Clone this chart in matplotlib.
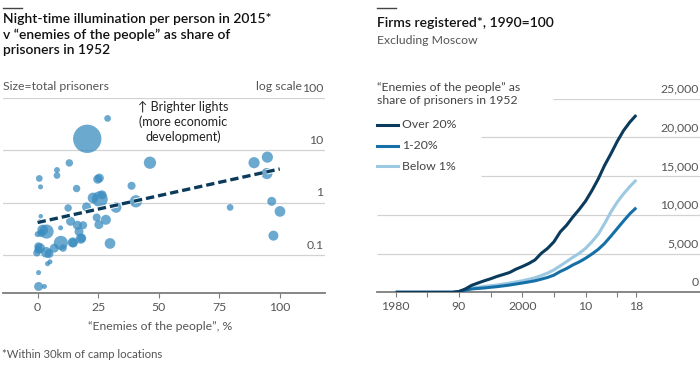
import numpy as np
import matplotlib
matplotlib.use("Agg")
import matplotlib.pyplot as plt
import matplotlib.patheffects as pe
from matplotlib.lines import Line2D
from matplotlib.transforms import blended_transform_factory

plt.rcParams['font.family'] = ['Lato', 'DejaVu Sans']

# --- left panel: scatter data ---
enemies_pct = [28.9, 20.5, 46.4, 13.1, 8.0, 8.0, 0.7, 1.2, 24.8, 25.5,
               16.1, 38.8, 89.4, 94.9, 94.7, 96.7, 100.1, 97.4, 79.5, 40.6,
               32.4, 25.7, 26.6, 22.9, 20.2, 12.6, 24.4, 28.2, 25.3, 13.6,
               16.4, 18.8, 17.1, 17.8, 14.5, 9.6, 6.9, 10.5, 3.7, 2.1,
               1.4, 1.3, 1.0, 9.5, 3.6, 4.7, 0.3, 0.3, -0.3, 29.9,
               4.1, 5.1, 0.4, 0.4, 2.8, 1.0, 14.7, 18.2, 0.0]
lights = [40.7, 16.6, 5.8, 5.75, 4.2, 3.3, 2.9, 2.0, 2.8, 2.95,
          1.86, 2.1, 5.8, 7.4, 3.6, 1.06, 0.68, 0.234, 0.81, 1.06,
          0.81, 1.17, 1.41, 1.23, 0.83, 0.79, 0.52, 0.47, 0.38, 0.44,
          0.37, 0.37, 0.28, 0.204, 0.174, 0.17, 0.135, 0.135, 0.28, 0.30,
          0.26, 0.55, 0.44, 0.33, 0.112, 0.106, 0.146, 0.126, 0.11, 0.166,
          0.068, 0.074, 0.046, 0.025, 0.025, 0.135, 0.17, 0.21, 0.25]
prisoners_k = [9, 160, 30, 11, 7, 9, 9, 5, 16, 16,
               11, 13, 25, 25, 25, 16, 23, 20, 9, 30,
               23, 50, 16, 23, 16, 11, 13, 20, 16, 16,
               16, 13, 16, 20, 20, 40, 16, 11, 40, 23,
               11, 4, 5, 5, 23, 16, 13, 13, 11, 23,
               5, 5, 5, 16, 5, 20, 16, 16, 7]
trend_x = [0, 100]
trend_y = [0.417, 4.4]
left_xticks = [0, 25, 50, 75, 100]
left_yticks = [0.1, 1, 10, 100]
left_ylabels = ['0.1', '1', '10', '100']

# --- right panel: firms registered, 1990=100 ---
years = list(range(1980, 2019))
over20 = [0, 0, 0, 0, 0, 0, 0, 0, 0, 0,
          100, 430, 900, 1200, 1490, 1750, 2050, 2300, 2560, 2990,
          3330, 3710, 4180, 5040, 5680, 6530, 7810, 8670, 9740, 10720,
          11790, 13150, 14650, 16400, 17900, 19500, 20900, 22000, 22900]
mid = [0, 0, 0, 0, 0, 0, 0, 0, 0, 0,
       100, 260, 430, 500, 560, 650, 730, 830, 940, 1070,
       1200, 1340, 1490, 1700, 1920, 2220, 2690, 3070, 3540, 3930,
       4400, 4950, 5550, 6320, 7260, 8240, 9220, 10160, 10930]
below1 = [0, 0, 0, 0, 0, 0, 0, 0, 0, 0,
          100, 330, 560, 660, 770, 850, 940, 1070, 1200, 1340,
          1490, 1680, 1880, 2170, 2480, 2900, 3420, 3970, 4530, 5040,
          5680, 6530, 7510, 8880, 10380, 11660, 12730, 13670, 14520]
series_names = ['Over 20%', '1-20%', 'Below 1%']
right_yticks = [0, 5000, 10000, 15000, 20000, 25000]
right_xticks = [1980, 1990, 2000, 2010, 2018]
right_xlabels = ['1980', '90', '2000', '10', '18']
right_minor = [1985, 1995, 2005, 2015]

W, H = 700, 370
def fx(px):
    return px / W
def fy(py):
    return 1 - py / H

GRID = '#d2d2d2'
AXIS = '#7d7d7d'
TXT = '#555555'
DARK = '#0b3b5c'
MIDC = '#1670a8'
LIGHT = '#9cc8e2'
FS = 8.8

fig = plt.figure(figsize=(7, 3.7), dpi=100)

# ---------------- left panel ----------------
axl = fig.add_axes([fx(3), fy(293), fx(325) - fx(3), fy(98) - fy(293)])
axl.set_yscale('log')
axl.set_xlim(-14.3, 118.7)
axl.set_ylim(10 ** -1.727, 100)
for v in left_yticks:
    axl.axhline(v, color=GRID, lw=0.9, zorder=0)
axl.scatter(enemies_pct, lights, s=np.array(prisoners_k) * 2.6,
            color='#3a8cc0', alpha=0.75, edgecolors='none', zorder=2)
axl.plot(trend_x, trend_y, color=DARK, lw=2.4, dashes=(2.5, 1.2), zorder=3,
         path_effects=[pe.withStroke(linewidth=3.8, foreground='white')])
for s in ['top', 'right', 'left']:
    axl.spines[s].set_visible(False)
axl.spines['bottom'].set_color(AXIS)
axl.spines['bottom'].set_linewidth(1.3)
axl.set_xticks(left_xticks)
axl.set_xticklabels([str(t) for t in left_xticks])
axl.tick_params(axis='x', length=3.5, width=0.8, color=AXIS, labelsize=FS,
                labelcolor=TXT, pad=3)
axl.set_yticks([])
axl.yaxis.set_minor_locator(matplotlib.ticker.NullLocator())
trl = blended_transform_factory(axl.transAxes, axl.transData)
for v, lab in zip(left_yticks, left_ylabels):
    axl.annotate(lab, xy=(1.0, v), xycoords=trl, xytext=(-1, 3),
                 textcoords='offset points', ha='right', va='bottom',
                 fontsize=FS, color=TXT, annotation_clip=False)
axl.text(60, 88, '\u2191 Brighter lights\n(more economic\ndevelopment)',
         ha='center', va='top', fontsize=9, color='#222222',
         linespacing=1.25)

fig.add_artist(Line2D([fx(3), fx(22)], [fy(8), fy(8)], color='#444444', lw=1))
fig.text(fx(3), fy(13), 'Night-time illumination per person in 2015*\n'
         'v \u201cenemies of the people\u201d as share of\nprisoners in 1952',
         ha='left', va='top', fontsize=10, color='#111111', linespacing=1.32,
         weight='semibold')
fig.text(fx(3), fy(87), 'Size=total prisoners', ha='left', va='center',
         fontsize=FS, color=TXT)
fig.text(fx(302), fy(87), 'log scale', ha='right', va='center',
         fontsize=FS, color=TXT)
fig.text(fx(160), fy(327), '\u201cEnemies of the people\u201d, %',
         ha='center', va='center', fontsize=FS, color=TXT)
fig.text(fx(2), fy(354), '*Within 30km of camp locations', ha='left',
         va='center', fontsize=8.2, color=TXT)

# ---------------- right panel ----------------
axr = fig.add_axes([fx(377), fy(292.3), fx(700) - fx(377), fy(98.8) - fy(292.3)])
axr.set_xlim(1977.05, 2028.07)
axr.set_ylim(0, 25000)
grid_start = {5000: 1977.05, 10000: 1977.05, 15000: 1993.5,
              20000: 1993.5, 25000: 2004.85}
for v in right_yticks[1:]:
    axr.hlines(v, grid_start[v], 2028.07, color=GRID, lw=0.9, zorder=0)
for vals, col, name in [(below1, LIGHT, series_names[2]),
                        (mid, MIDC, series_names[1]),
                        (over20, DARK, series_names[0])]:
    axr.plot(years, vals, color=col, lw=2.2, solid_capstyle='butt',
             label=name, zorder=3)
for s in ['top', 'right', 'left']:
    axr.spines[s].set_visible(False)
axr.spines['bottom'].set_color(AXIS)
axr.spines['bottom'].set_linewidth(1.3)
axr.set_xticks(right_xticks)
axr.set_xticklabels(right_xlabels)
axr.set_xticks(right_minor, minor=True)
axr.tick_params(axis='x', which='both', length=3.5, width=0.8, color=AXIS,
                labelsize=FS, labelcolor=TXT, pad=3)
axr.set_yticks([])
trr = blended_transform_factory(axr.transAxes, axr.transData)
for v in right_yticks:
    axr.annotate(f'{v:,}', xy=(1.0, v), xycoords=trr, xytext=(-1, 3),
                 textcoords='offset points', ha='right', va='bottom',
                 fontsize=FS, color=TXT, annotation_clip=False)

fig.add_artist(Line2D([fx(377), fx(396)], [fy(8), fy(8)], color='#444444', lw=1))
fig.text(fx(377), fy(23), 'Firms registered*, 1990=100', ha='left',
         va='center', fontsize=10, color='#111111', weight='semibold')
fig.text(fx(377), fy(41), 'Excluding Moscow', ha='left', va='center',
         fontsize=FS, color=TXT)
fig.text(fx(377), fy(94), '\u201cEnemies of the people\u201d as\n'
         'share of prisoners in 1952', ha='left', va='center',
         fontsize=FS, color='#444444', linespacing=1.3)
for i, (col, name) in enumerate([(DARK, series_names[0]),
                                 (MIDC, series_names[1]),
                                 (LIGHT, series_names[2])]):
    yy = 125 + i * 20.5
    fig.add_artist(Line2D([fx(377), fx(398)], [fy(yy), fy(yy)], color=col, lw=2.2))
    fig.text(fx(402), fy(yy), name, ha='left', va='center', fontsize=FS,
             color='#444444')

fig.savefig('out.png', dpi=100)
